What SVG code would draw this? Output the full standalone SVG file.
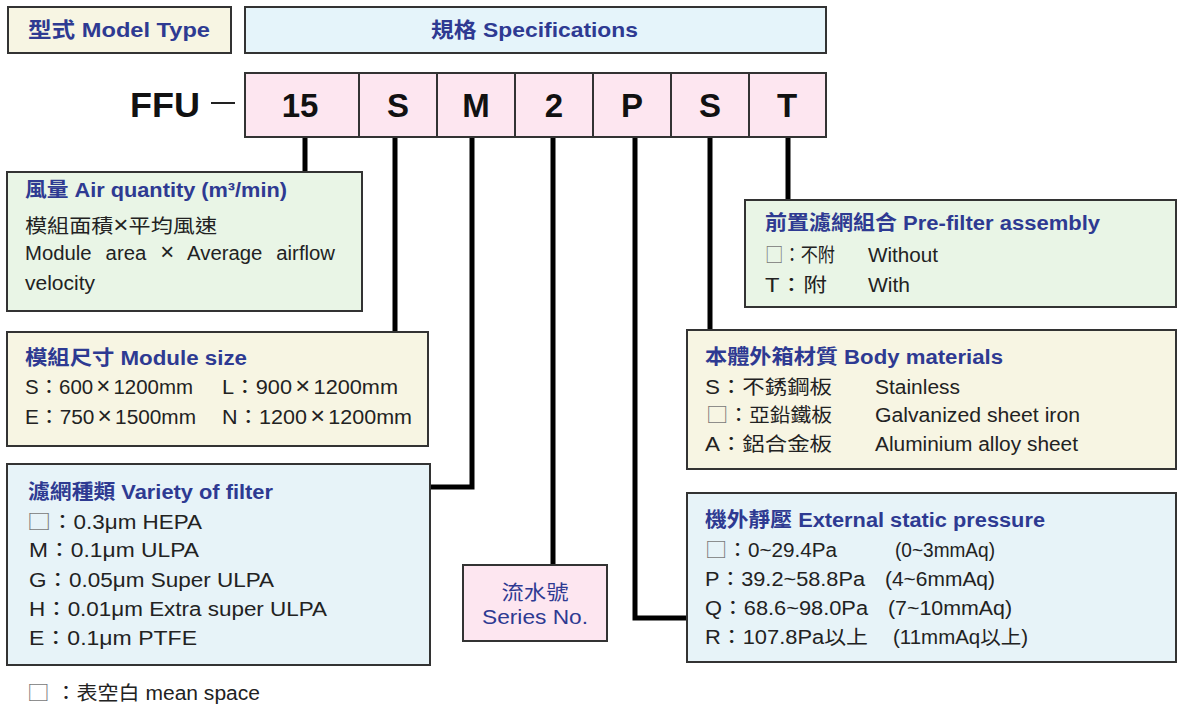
<svg xmlns="http://www.w3.org/2000/svg" width="1179" height="706" viewBox="0 0 1179 706">
<style>
  .box { stroke: #333; stroke-width: 2; }
  .pink { fill: #FDE6F0; }
  .cream { fill: #F7F5E3; }
  .cyan { fill: #E5F4FA; }
  .green { fill: #E9F5E6; }
  .blue { fill: #E7F3F8; }
  text { font-family: "Liberation Sans", "Noto Sans CJK TC", sans-serif; }
  .hdr { font-size: 21px; font-weight: bold; fill: #2E3A92; }
  .code { font-size: 33px; font-weight: bold; fill: #111; text-anchor: middle; }
  .ttl { font-size: 20px; font-weight: bold; fill: #2E3A92; }
  .txt { font-size: 19.5px; fill: #222; }
  .sq { fill: #777; font-family: "Noto Sans CJK TC", sans-serif; font-size: 21px; }
  .x { font-size: 23px; }
  .ser { font-size: 20px; fill: #2E3A92; text-anchor: middle; }
  .conn { fill: none; stroke: #000; stroke-width: 5; }
</style>

<g id="connectors">
  <path class="conn" d="M305 137 V172"/>
  <path class="conn" d="M395 137 V332"/>
  <path class="conn" d="M472 137 V487 H430"/>
  <path class="conn" d="M553 137 V565"/>
  <path class="conn" d="M635 137 V618 H687"/>
  <path class="conn" d="M710 137 V330"/>
  <path class="conn" d="M788 137 V200"/>
</g>

<g id="model-type">
  <rect class="box cream" x="8" y="7" width="223" height="46"/>
  <text class="hdr" x="28" y="37" textLength="182" lengthAdjust="spacingAndGlyphs">型式 Model Type</text>
</g>

<g id="specifications">
  <rect class="box cyan" x="245" y="7" width="581" height="46"/>
  <text class="hdr" x="431" y="37" textLength="207" lengthAdjust="spacingAndGlyphs">規格 Specifications</text>
</g>

<g id="ffu">
  <text x="130" y="117" style="font-size:35px;font-weight:bold;fill:#111" textLength="70" lengthAdjust="spacingAndGlyphs">FFU</text>
  <line x1="211" y1="103" x2="235" y2="103" stroke="#222" stroke-width="2"/>
</g>

<g id="codes">
  <rect class="box pink" x="245" y="73" width="114" height="64"/>
  <rect class="box pink" x="359" y="73" width="78" height="64"/>
  <rect class="box pink" x="437" y="73" width="78" height="64"/>
  <rect class="box pink" x="515" y="73" width="78" height="64"/>
  <rect class="box pink" x="593" y="73" width="78" height="64"/>
  <rect class="box pink" x="671" y="73" width="78" height="64"/>
  <rect class="box pink" x="749" y="73" width="77" height="64"/>
  <text class="code" x="300" y="117">15</text>
  <text class="code" x="398" y="117">S</text>
  <text class="code" x="476" y="117">M</text>
  <text class="code" x="554" y="117">2</text>
  <text class="code" x="632" y="117">P</text>
  <text class="code" x="710" y="117">S</text>
  <text class="code" x="787" y="117">T</text>
</g>

<g id="air-quantity">
  <rect class="box green" x="7" y="172" width="355" height="139"/>
  <text class="ttl" x="25" y="197" textLength="262" lengthAdjust="spacingAndGlyphs">風量 Air quantity (m³/min)</text>
  <text class="txt" x="25" y="233" textLength="192" lengthAdjust="spacingAndGlyphs">模組面積<tspan class="x">×</tspan>平均風速</text>
  <text class="txt" x="25" y="260" word-spacing="8" textLength="310" lengthAdjust="spacingAndGlyphs">Module area <tspan class="x">×</tspan> Average airflow</text>
  <text class="txt" x="25" y="290" textLength="70" lengthAdjust="spacingAndGlyphs">velocity</text>
</g>

<g id="module-size">
  <rect class="box cream" x="7" y="332" width="421" height="114"/>
  <text class="ttl" x="25" y="365" textLength="222" lengthAdjust="spacingAndGlyphs">模組尺寸 Module size</text>
  <text class="txt" x="25" y="394" textLength="168" lengthAdjust="spacingAndGlyphs">S：600<tspan class="x" dx="3">×</tspan><tspan dx="3">1200mm</tspan></text>
  <text class="txt" x="222" y="394" textLength="176" lengthAdjust="spacingAndGlyphs">L：900<tspan class="x" dx="3">×</tspan><tspan dx="3">1200mm</tspan></text>
  <text class="txt" x="25" y="424" textLength="171" lengthAdjust="spacingAndGlyphs">E：750<tspan class="x" dx="3">×</tspan><tspan dx="3">1500mm</tspan></text>
  <text class="txt" x="222" y="424" textLength="190" lengthAdjust="spacingAndGlyphs">N：1200<tspan class="x" dx="3">×</tspan><tspan dx="3">1200mm</tspan></text>
</g>

<g id="variety-of-filter">
  <rect class="box blue" x="7" y="464" width="423" height="201"/>
  <text class="ttl" x="28" y="499" textLength="245" lengthAdjust="spacingAndGlyphs">濾網種類 Variety of filter</text>
  <text class="txt" x="27" y="529" textLength="175" lengthAdjust="spacingAndGlyphs"><tspan class="sq">□</tspan>：0.3μm HEPA</text>
  <text class="txt" x="29" y="557" textLength="170" lengthAdjust="spacingAndGlyphs">M：0.1μm ULPA</text>
  <text class="txt" x="29" y="587" textLength="245" lengthAdjust="spacingAndGlyphs">G：0.05μm Super ULPA</text>
  <text class="txt" x="29" y="616" textLength="298" lengthAdjust="spacingAndGlyphs">H：0.01μm Extra super ULPA</text>
  <text class="txt" x="29" y="645" textLength="168" lengthAdjust="spacingAndGlyphs">E：0.1μm PTFE</text>
</g>

<g id="series-no">
  <rect class="box pink" x="463" y="565" width="144" height="76"/>
  <text class="ser" x="535" y="600" textLength="67" lengthAdjust="spacingAndGlyphs">流水號</text>
  <text class="ser" x="535" y="624" textLength="106" lengthAdjust="spacingAndGlyphs">Series No.</text>
</g>

<g id="pre-filter">
  <rect class="box green" x="745" y="200" width="431" height="107"/>
  <text class="ttl" x="765" y="230" textLength="335" lengthAdjust="spacingAndGlyphs">前置濾網組合 Pre-filter assembly</text>
  <text class="txt" x="765" y="262" textLength="70" lengthAdjust="spacingAndGlyphs"><tspan class="sq">□</tspan>：不附</text>
  <text class="txt" x="868" y="262" textLength="70" lengthAdjust="spacingAndGlyphs">Without</text>
  <text class="txt" x="765" y="292" textLength="62" lengthAdjust="spacingAndGlyphs">T：附</text>
  <text class="txt" x="868" y="292" textLength="42" lengthAdjust="spacingAndGlyphs">With</text>
</g>

<g id="body-materials">
  <rect class="box cream" x="687" y="330" width="489" height="139"/>
  <text class="ttl" x="705" y="364" textLength="298" lengthAdjust="spacingAndGlyphs">本體外箱材質 Body materials</text>
  <text class="txt" x="705" y="394" textLength="127" lengthAdjust="spacingAndGlyphs">S：不銹鋼板</text>
  <text class="txt" x="875" y="394" textLength="85" lengthAdjust="spacingAndGlyphs">Stainless</text>
  <text class="txt" x="706" y="422" textLength="126" lengthAdjust="spacingAndGlyphs"><tspan class="sq">□</tspan>：亞鉛鐵板</text>
  <text class="txt" x="875" y="422" textLength="205" lengthAdjust="spacingAndGlyphs">Galvanized sheet iron</text>
  <text class="txt" x="705" y="451" textLength="127" lengthAdjust="spacingAndGlyphs">A：鋁合金板</text>
  <text class="txt" x="875" y="451" textLength="203" lengthAdjust="spacingAndGlyphs">Aluminium alloy sheet</text>
</g>

<g id="external-static-pressure">
  <rect class="box blue" x="687" y="493" width="489" height="169"/>
  <text class="ttl" x="705" y="527" textLength="340" lengthAdjust="spacingAndGlyphs">機外靜壓 External static pressure</text>
  <text class="txt" x="705" y="557" textLength="132" lengthAdjust="spacingAndGlyphs"><tspan class="sq">□</tspan>：0~29.4Pa</text>
  <text class="txt" x="895" y="557" textLength="100" lengthAdjust="spacingAndGlyphs">(0~3mmAq)</text>
  <text class="txt" x="705" y="586" textLength="160" lengthAdjust="spacingAndGlyphs">P：39.2~58.8Pa</text>
  <text class="txt" x="885" y="586" textLength="110" lengthAdjust="spacingAndGlyphs">(4~6mmAq)</text>
  <text class="txt" x="705" y="615" textLength="163" lengthAdjust="spacingAndGlyphs">Q：68.6~98.0Pa</text>
  <text class="txt" x="888" y="615" textLength="124" lengthAdjust="spacingAndGlyphs">(7~10mmAq)</text>
  <text class="txt" x="705" y="644" textLength="163" lengthAdjust="spacingAndGlyphs">R：107.8Pa以上</text>
  <text class="txt" x="893" y="644" textLength="135" lengthAdjust="spacingAndGlyphs">(11mmAq以上)</text>
</g>

<g id="legend">
  <text class="txt" x="27" y="700" textLength="233" lengthAdjust="spacingAndGlyphs"><tspan class="sq">□</tspan> ：表空白 mean space</text>
</g>
</svg>
